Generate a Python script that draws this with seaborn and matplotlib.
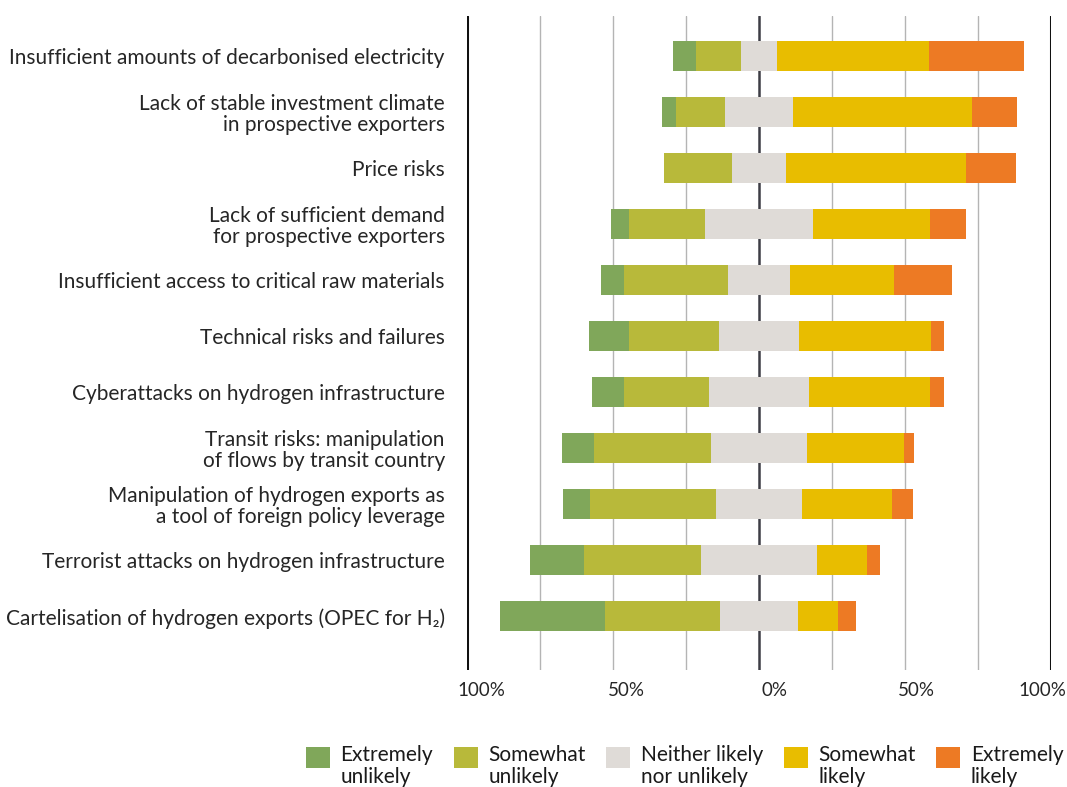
import pandas as pd
import matplotlib.pyplot as plt
import seaborn as sns
from matplotlib.patches import Patch, Rectangle
from matplotlib.legend_handler import HandlerPatch
from matplotlib.transforms import ScaledTranslation

## ---------------------------------------------------------------------------
## DATA (segment widths, in axis units)
## ---------------------------------------------------------------------------
risks = [
    'Insufficient amounts of decarbonised electricity',
    'Lack of stable investment climate\nin prospective exporters',
    'Price risks',
    'Lack of sufficient demand\nfor prospective exporters',
    'Insufficient access to critical raw materials',
    'Technical risks and failures',
    'Cyberattacks on hydrogen infrastructure',
    'Transit risks: manipulation\nof flows by transit country',
    'Manipulation of hydrogen exports as\na tool of foreign policy leverage',
    'Terrorist attacks on hydrogen infrastructure',
    'Cartelisation of hydrogen exports (OPEC for H\u2082)',
]
extremely_unlikely = [7.9, 4.8, 0.0, 6.2, 7.9, 14.0, 11.0, 10.9, 9.2, 18.5, 35.7]
somewhat_unlikely = [15.5, 16.8, 23.3, 26.1, 35.7, 30.5, 29.1, 40.1, 43.2, 40.1, 39.7]
neither = [12.3, 23.2, 18.2, 37.0, 21.2, 27.7, 34.0, 32.6, 29.2, 39.8, 26.4]
somewhat_likely = [52.1, 61.4, 61.7, 40.1, 35.7, 45.0, 41.7, 33.5, 30.8, 17.2, 13.7]
extremely_likely = [32.6, 15.5, 17.2, 12.3, 19.8, 4.5, 4.5, 3.2, 7.5, 4.4, 6.2]

legend_labels = ['Extremely\nunlikely', 'Somewhat\nunlikely', 'Neither likely\nnor unlikely',
                 'Somewhat\nlikely', 'Extremely\nlikely']
colors = ['#80a75a', '#b8b93a', '#dfdbd7', '#e8bd00', '#ed7a24']

tick_vals = [-100, -50, 0, 50, 100]
tick_labels = ['100%', '50%', '0%', '50%', '100%']

## ---------------------------------------------------------------------------
## diverging positions: neutral centred on zero
## ---------------------------------------------------------------------------
df = pd.DataFrame(dict(risk=risks, eu=extremely_unlikely, su=somewhat_unlikely,
                       n=neither, sl=somewhat_likely, el=extremely_likely))
df['r_n'] = df['n'] / 2
df['r_sl'] = df['r_n'] + df['sl']
df['r_el'] = df['r_sl'] + df['el']
df['l_n'] = -df['n'] / 2
df['l_su'] = df['l_n'] - df['su']
df['l_eu'] = df['l_su'] - df['eu']

## ---------------------------------------------------------------------------
## STYLE
## ---------------------------------------------------------------------------
sns.set_theme(style='white')
plt.rcParams['font.family'] = ['Lato', 'DejaVu Sans']
plt.rcParams['font.size'] = 15
plt.rcParams['text.color'] = '#1a1a1a'

fig = plt.figure(figsize=(10.67, 7.87), dpi=100)
ax = fig.add_axes([467 / 1067, 1 - 670 / 787, 584 / 1067, 654 / 787])

## grid lines behind the bars
for v in range(-100, 101, 25):
    if abs(v) == 100:
        ax.axvline(v, color='#111111', lw=2.2, zorder=0)
    elif v == 0:
        ax.axvline(v, color='#3d3d45', lw=1.8, zorder=0)
    else:
        ax.axvline(v, color='#b4b4b4', lw=1.0, zorder=0)

## draw outer segments first, inner ones on top
layers = [('r_el', colors[4]), ('r_sl', colors[3]), ('r_n', colors[2]),
          ('l_eu', colors[0]), ('l_su', colors[1]), ('l_n', colors[2])]
for col, c in layers:
    sns.barplot(data=df, y='risk', x=col, orient='h', color=c, saturation=1,
                width=0.54, linewidth=0, errorbar=None, ax=ax, zorder=2)

ax.set_xlim(-100, 100)
ax.set_ylim(len(risks) - 1 + 0.96, -0.72)
ax.set_xlabel(None)
ax.set_ylabel(None)
sns.despine(ax=ax, left=True, bottom=True)
ax.tick_params(axis='both', length=0)
ax.tick_params(axis='y', pad=16, labelsize=15)
ax.tick_params(axis='x', pad=9, labelsize=13.5)
ax.set_xticks(tick_vals)
ax.set_xticklabels(tick_labels)
for lbl, dx in zip(ax.get_xticklabels(), [14, 13, 15, 11, -9]):
    lbl.set_transform(lbl.get_transform() + ScaledTranslation(dx / 100, 0, fig.dpi_scale_trans))
for lbl in ax.get_yticklabels():
    lbl.set_multialignment('right')
    lbl.set_linespacing(1.05)


## legend square sits level with the first text line
def top_square(legend, orig_handle, xdescent, ydescent, width, height, fontsize):
    return Rectangle((-xdescent, -ydescent + 0.45 * fontsize), width, height)


handles = [Patch(facecolor=c, edgecolor='none') for c in colors]
leg = fig.legend(handles, legend_labels, ncol=5, loc='upper left',
                 bbox_to_anchor=(306 / 1067, 1 - 745 / 787), frameon=False,
                 handlelength=1.15, handleheight=1.15, handletextpad=0.5,
                 columnspacing=1.0, fontsize=15, borderpad=0, borderaxespad=0,
                 handler_map={Patch: HandlerPatch(patch_func=top_square)})
for t in leg.get_texts():
    t.set_linespacing(1.1)

fig.savefig('out.png', dpi=100)
